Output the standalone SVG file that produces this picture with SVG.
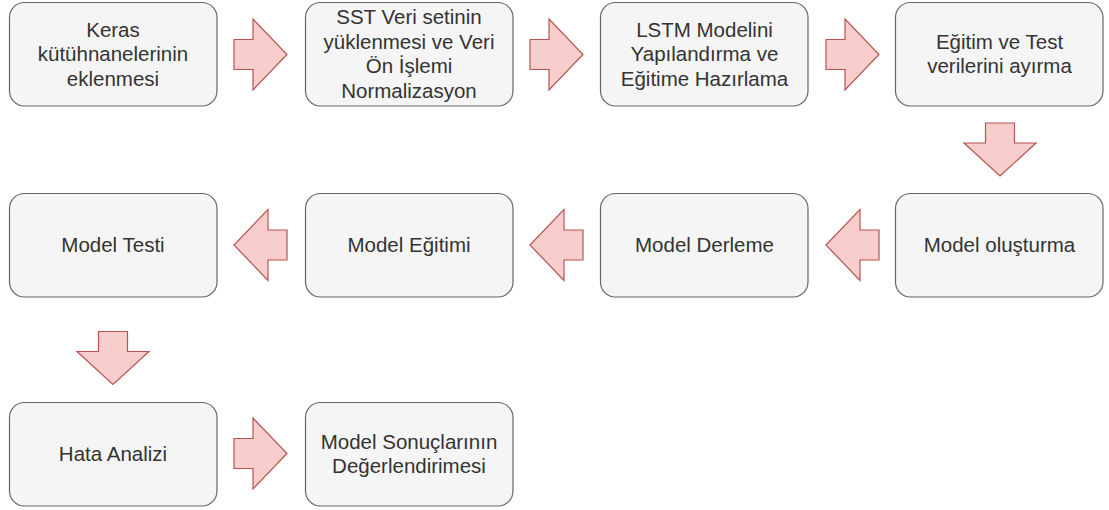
<svg xmlns="http://www.w3.org/2000/svg" xmlns:xlink="http://www.w3.org/1999/xlink" width="1109" height="510" viewBox="0 0 1109 510">
<style>
.box{fill:#f5f5f5;stroke:#666666;stroke-width:1.2}
.t{font-family:"Liberation Sans",Arial,sans-serif;font-size:20.5px;fill:#333333;text-anchor:middle}
.arr{fill:#f8cecc;stroke:#b85450;stroke-width:1.2;stroke-linejoin:miter}
</style>
<defs>
<path id="ra" d="M0,-15 H19 V-35.5 L53,0 L19,35.5 V15 H0 Z"/>
<path id="la" d="M53,-15 H34 V-35.5 L0,0 L34,35.5 V15 H53 Z"/>
<path id="da" d="M-14.5,0 V20 H-36 L0,53 L36,20 H14.5 V0 Z"/>
</defs>
<rect width="1109" height="510" fill="#ffffff"/>
<g id="connectors" class="arr">
<use xlink:href="#ra" x="234" y="54.5"/>
<use xlink:href="#ra" x="530" y="54.5"/>
<use xlink:href="#ra" x="826" y="54.5"/>
<use xlink:href="#da" x="1000" y="123"/>
<use xlink:href="#la" x="826" y="245"/>
<use xlink:href="#la" x="530" y="245"/>
<use xlink:href="#la" x="234" y="245"/>
<use xlink:href="#da" x="113" y="331.5"/>
<use xlink:href="#ra" x="234" y="453.5"/>
</g>
<g id="n1"><rect class="box" x="9.5" y="2.5" width="207.5" height="103.5" rx="15"/>
<text class="t" x="113" y="36.5">Keras</text><text class="t" x="113" y="61">kütühnanelerinin</text><text class="t" x="113" y="85.5">eklenmesi</text></g>
<g id="n2"><rect class="box" x="305.5" y="2.5" width="207.5" height="103.5" rx="15"/>
<text class="t" x="409" y="24">SST Veri setinin</text><text class="t" x="409" y="48.5">yüklenmesi ve Veri</text><text class="t" x="409" y="73">Ön İşlemi</text><text class="t" x="409" y="97.5">Normalizasyon</text></g>
<g id="n3"><rect class="box" x="600.5" y="2.5" width="207.5" height="103.5" rx="15"/>
<text class="t" x="704.5" y="36.5">LSTM Modelini</text><text class="t" x="704.5" y="61">Yapılandırma ve</text><text class="t" x="704.5" y="85.5">Eğitime Hazırlama</text></g>
<g id="n4"><rect class="box" x="895.5" y="2.5" width="207.5" height="103.5" rx="15"/>
<text class="t" x="999.5" y="48.5">Eğitim ve Test</text><text class="t" x="999.5" y="73">verilerini ayırma</text></g>
<g id="n5"><rect class="box" x="895.5" y="193.5" width="207.5" height="103.5" rx="15"/>
<text class="t" x="999.5" y="252">Model oluşturma</text></g>
<g id="n6"><rect class="box" x="600.5" y="193.5" width="207.5" height="103.5" rx="15"/>
<text class="t" x="704.5" y="252">Model Derleme</text></g>
<g id="n7"><rect class="box" x="305.5" y="193.5" width="207.5" height="103.5" rx="15"/>
<text class="t" x="409" y="252">Model Eğitimi</text></g>
<g id="n8"><rect class="box" x="9.5" y="193.5" width="207.5" height="103.5" rx="15"/>
<text class="t" x="113" y="252">Model Testi</text></g>
<g id="n9"><rect class="box" x="9.5" y="402.5" width="207.5" height="103.5" rx="15"/>
<text class="t" x="113" y="461">Hata Analizi</text></g>
<g id="n10"><rect class="box" x="305.5" y="402.5" width="207.5" height="103.5" rx="15"/>
<text class="t" x="409" y="448.5">Model Sonuçlarının</text><text class="t" x="409" y="473">Değerlendirimesi</text></g>
</svg>
